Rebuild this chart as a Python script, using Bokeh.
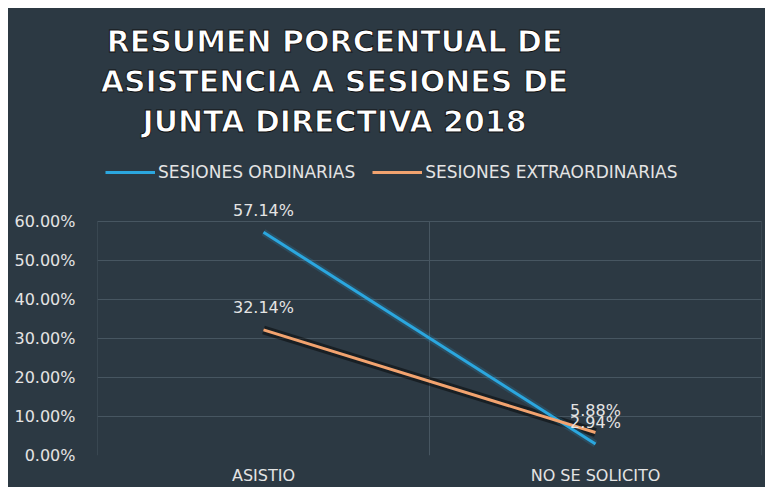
from bokeh.plotting import figure
from bokeh.models import (ColumnDataSource, Label, LabelSet, Legend, LegendItem,
                          FixedTicker, NumeralTickFormatter, Range1d)
from bokeh.core.properties import value
from bokeh.embed import file_html
from bokeh.resources import INLINE

# ---- data ----
title_lines = ["RESUMEN PORCENTUAL DE", "ASISTENCIA A SESIONES DE", "JUNTA DIRECTIVA 2018"]
categories = ["ASISTIO", "NO SE SOLICITO"]
series_names = ["SESIONES ORDINARIAS", "SESIONES EXTRAORDINARIAS"]
ordinarias = [0.5714, 0.0294]
extraordinarias = [0.3214, 0.0588]
y_ticks = [0.0, 0.1, 0.2, 0.3, 0.4, 0.5, 0.6]

BG = "#2c3943"
BLUE = "#2ba7df"
ORANGE = "#f2a36f"
GRID = "#475661"
TXT = "#e4e4e4"
FONT = "DejaVu Sans"

# ---- layout (px) ----
W, H = 757, 479
FRAME_L, FRAME_R, FRAME_B = 89, 4, 29
FRAME_H = H - FRAME_B               # frame spans from the top of the canvas
PLOT_TOP = 214                      # where the 60% line sits (from top)
plot_h = FRAME_H - PLOT_TOP
y_end = y_ticks[-1] * FRAME_H / plot_h

n = len(categories)
xs = [i + 0.5 for i in range(n)]

p = figure(width=W, height=H, output_backend="svg", toolbar_location=None,
           x_range=Range1d(0, n), y_range=Range1d(y_ticks[0], y_end),
           min_border_left=FRAME_L, min_border_right=FRAME_R, min_border_top=0,
           min_border_bottom=FRAME_B, margin=(8, 0, 0, 8))
# one uniform dark background for the whole chart (avoids seams between fills)
p.styles = {"background-color": BG}
p.background_fill_color = None
p.border_fill_color = None
p.outline_line_color = None

# grid
p.ygrid.ticker = FixedTicker(ticks=y_ticks[1:])
p.ygrid.grid_line_color = GRID
p.xgrid.grid_line_color = None
# vertical category separators, limited to the plotting area
p.segment(x0=list(range(n + 1)), y0=[y_ticks[0]] * (n + 1),
          x1=list(range(n + 1)), y1=[y_ticks[-1]] * (n + 1),
          line_color=GRID, line_width=1)

# axes
p.yaxis.ticker = FixedTicker(ticks=y_ticks)
p.yaxis.formatter = NumeralTickFormatter(format="0.00%")
p.xaxis.ticker = FixedTicker(ticks=xs)
p.xaxis.major_label_overrides = {x: c for x, c in zip(xs, categories)}
for ax in (p.xaxis, p.yaxis):
    ax.axis_line_color = None
    ax.major_tick_line_color = None
    ax.minor_tick_line_color = None
    ax.major_tick_out = 0
    ax.major_tick_in = 0
    ax.major_label_text_color = TXT
    ax.major_label_text_font = FONT
    ax.major_label_text_font_size = "16px"
p.yaxis.major_label_standoff = 22
p.xaxis.major_label_standoff = 10

# lines
p.line(xs, extraordinarias, line_color="black", line_alpha=0.45, line_width=9)
p.line(xs, ordinarias, line_color=BLUE, line_alpha=0.18, line_width=7)
r1 = p.line(xs, ordinarias, line_color=BLUE, line_width=3)
r2 = p.line(xs, extraordinarias, line_color=ORANGE, line_width=3)

# data labels
for vals in (ordinarias, extraordinarias):
    src = ColumnDataSource(dict(x=xs, y=vals, t=[f"{v:.2%}" for v in vals]))
    p.add_layout(LabelSet(x="x", y="y", text="t", source=src, y_offset=22,
                          text_align="center", text_baseline="middle",
                          text_color=TXT, text_font=value(FONT),
                          text_font_size="16px"))

# legend (position relative to the frame's bottom-left corner)
legend = Legend(items=[LegendItem(label=series_names[0], renderers=[r1]),
                       LegendItem(label=series_names[1], renderers=[r2])],
                location=(8, FRAME_H - 177), orientation="horizontal",
                padding=0, margin=0, spacing=17, label_standoff=3,
                glyph_width=50, glyph_height=20,
                background_fill_alpha=0, border_line_color=None,
                label_text_color=TXT, label_text_font=FONT,
                label_text_font_size="17px")
p.add_layout(legend)

# title (screen units relative to the frame's bottom-left corner)
for i, line in enumerate(title_lines):
    p.add_layout(Label(x=326 - FRAME_L, y=FRAME_H - 36 - 40 * i,
                       x_units="screen", y_units="screen",
                       text=line, text_align="center", text_baseline="middle",
                       text_color="white", text_font=FONT, text_font_style="bold",
                       text_font_size="30px", text_outline_color="#111111"))

open("out.html", "w").write(file_html(p, INLINE))
